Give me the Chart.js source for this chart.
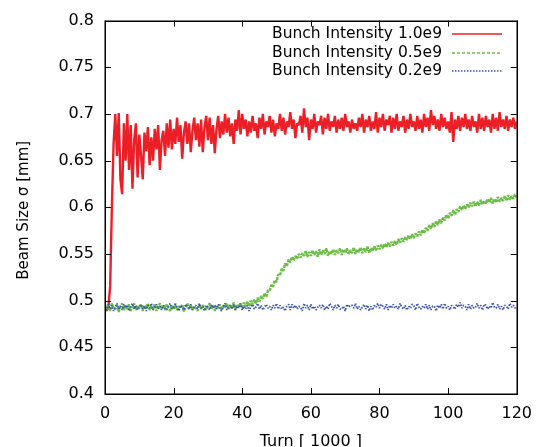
<!DOCTYPE html>
<html>
<head>
<meta charset="utf-8">
<script src="https://cdn.jsdelivr.net/npm/chart.js@4"></script>
<style>
  html, body { margin: 0; padding: 0; background: #ffffff; }
  #wrap { width: 542px; height: 447px; }
</style>
</head>
<body>
<div id="wrap"><canvas id="c" width="542" height="447"></canvas></div>
<script>
// ---- data ----
const TURN_STEP = 0.5; // sampling interval of the series, in units of 1000 turns
const xTicks = [0, 20, 40, 60, 80, 100, 120];
const yTicks = [0.4, 0.45, 0.5, 0.55, 0.6, 0.65, 0.7, 0.75, 0.8];
const seriesLabels = ["Bunch Intensity 1.0e9", "Bunch Intensity 0.5e9", "Bunch Intensity 0.2e9"];

const intensity10 = [
  0.492,0.489,0.494,0.515,0.600,0.668,
  0.700,0.655,0.701,0.630,0.614,0.690,
  0.650,0.700,0.640,0.688,0.620,0.672,
  0.690,0.632,0.678,0.655,0.630,0.680,
  0.660,0.686,0.645,0.675,0.650,0.684,
  0.662,0.688,0.640,0.672,0.682,0.655,
  0.690,0.664,0.694,0.662,0.684,0.668,
  0.696,0.670,0.688,0.652,0.680,0.692,
  0.668,0.690,0.659,0.682,0.696,0.672,
  0.690,0.665,0.694,0.659,0.686,0.698,
  0.672,0.696,0.668,0.688,0.658,0.684,
  0.698,0.674,0.692,0.678,0.700,0.680,
  0.696,0.676,0.690,0.668,0.694,0.682,
  0.704,0.678,0.700,0.684,0.694,0.676,
  0.692,0.680,0.698,0.682,0.690,0.674,
  0.696,0.684,0.700,0.678,0.692,0.686,
  0.698,0.680,0.694,0.676,0.690,0.684,
  0.700,0.682,0.696,0.678,0.692,0.686,
  0.702,0.684,0.694,0.674,0.690,0.688,
  0.698,0.680,0.706,0.686,0.696,0.672,
  0.694,0.684,0.700,0.680,0.692,0.688,
  0.698,0.678,0.696,0.684,0.700,0.682,
  0.692,0.686,0.698,0.680,0.694,0.684,
  0.696,0.682,0.700,0.686,0.692,0.680,
  0.694,0.684,0.690,0.682,0.696,0.686,
  0.700,0.680,0.694,0.686,0.698,0.682,
  0.692,0.684,0.702,0.680,0.696,0.686,
  0.700,0.682,0.694,0.688,0.698,0.680,
  0.696,0.684,0.700,0.682,0.692,0.686,
  0.698,0.680,0.694,0.684,0.700,0.686,
  0.692,0.682,0.698,0.684,0.694,0.680,
  0.700,0.686,0.696,0.682,0.704,0.688,
  0.698,0.684,0.694,0.682,0.700,0.686,
  0.696,0.684,0.692,0.680,0.702,0.670,
  0.694,0.684,0.698,0.682,0.696,0.686,
  0.700,0.684,0.694,0.682,0.698,0.686,
  0.692,0.680,0.700,0.684,0.696,0.682,
  0.698,0.686,0.694,0.680,0.700,0.684,
  0.696,0.682,0.702,0.686,0.694,0.684,
  0.698,0.682,0.694,0.686,0.696,0.684,
  0.692
];

const intensity05 = [
  0.496,0.490,0.494,0.489,0.497,0.492,
  0.491,0.495,0.488,0.494,0.497,0.490,
  0.495,0.491,0.496,0.489,0.493,0.497,
  0.490,0.494,0.492,0.496,0.489,0.495,
  0.492,0.497,0.490,0.494,0.491,0.496,
  0.489,0.494,0.497,0.491,0.495,0.490,
  0.496,0.492,0.489,0.495,0.491,0.497,
  0.490,0.494,0.492,0.496,0.488,0.493,
  0.497,0.491,0.495,0.490,0.494,0.492,
  0.489,0.496,0.491,0.495,0.493,0.490,
  0.494,0.497,0.491,0.495,0.489,0.494,
  0.492,0.496,0.490,0.495,0.493,0.497,
  0.491,0.495,0.492,0.498,0.490,0.496,
  0.493,0.497,0.492,0.498,0.494,0.499,
  0.494,0.500,0.496,0.501,0.497,0.503,
  0.499,0.505,0.502,0.508,0.504,0.511,
  0.511,0.517,0.515,0.522,0.520,0.528,
  0.527,0.534,0.532,0.540,0.537,0.544,
  0.541,0.547,0.543,0.548,0.545,0.550,
  0.546,0.551,0.548,0.553,0.547,0.552,
  0.548,0.554,0.549,0.553,0.547,0.555,
  0.549,0.554,0.550,0.556,0.548,0.553,
  0.550,0.555,0.549,0.554,0.551,0.556,
  0.549,0.555,0.551,0.556,0.550,0.554,
  0.551,0.557,0.550,0.555,0.552,0.557,
  0.551,0.556,0.552,0.558,0.551,0.556,
  0.553,0.558,0.554,0.559,0.555,0.560,
  0.556,0.561,0.557,0.562,0.558,0.563,
  0.559,0.564,0.560,0.566,0.562,0.567,
  0.563,0.568,0.565,0.570,0.566,0.571,
  0.567,0.572,0.569,0.574,0.570,0.576,
  0.572,0.578,0.575,0.581,0.577,0.583,
  0.579,0.585,0.581,0.587,0.583,0.589,
  0.586,0.592,0.588,0.594,0.591,0.597,
  0.592,0.598,0.595,0.601,0.597,0.602,
  0.598,0.603,0.600,0.605,0.601,0.606,
  0.601,0.606,0.602,0.608,0.603,0.607,
  0.604,0.609,0.605,0.610,0.604,0.609,
  0.605,0.611,0.606,0.610,0.607,0.612,
  0.607,0.613,0.608,0.612,0.609,0.614,
  0.610
];

const intensity02 = [
  0.494,0.490,0.496,0.491,0.495,0.489,
  0.493,0.497,0.491,0.494,0.490,0.496,
  0.492,0.495,0.489,0.494,0.497,0.491,
  0.495,0.490,0.493,0.496,0.491,0.494,
  0.489,0.495,0.492,0.497,0.490,0.493,
  0.496,0.491,0.494,0.490,0.495,0.492,
  0.490,0.494,0.497,0.491,0.493,0.496,
  0.492,0.489,0.495,0.493,0.490,0.496,
  0.494,0.491,0.496,0.490,0.493,0.495,
  0.491,0.497,0.492,0.494,0.489,0.495,
  0.493,0.490,0.496,0.492,0.495,0.491,
  0.496,0.492,0.489,0.494,0.497,0.490,
  0.493,0.495,0.491,0.496,0.490,0.494,
  0.492,0.497,0.490,0.494,0.491,0.495,
  0.489,0.494,0.496,0.491,0.493,0.497,
  0.491,0.495,0.490,0.493,0.496,0.492,
  0.494,0.490,0.495,0.492,0.497,0.491,
  0.495,0.491,0.493,0.489,0.494,0.496,
  0.490,0.496,0.492,0.495,0.491,0.494,
  0.493,0.489,0.497,0.492,0.495,0.490,
  0.496,0.491,0.494,0.490,0.493,0.495,
  0.492,0.496,0.490,0.494,0.491,0.497,
  0.494,0.490,0.495,0.492,0.496,0.491,
  0.491,0.494,0.489,0.496,0.493,0.495,
  0.495,0.492,0.497,0.491,0.494,0.490,
  0.493,0.496,0.491,0.495,0.489,0.494,
  0.490,0.495,0.493,0.497,0.492,0.496,
  0.494,0.491,0.496,0.490,0.495,0.492,
  0.496,0.492,0.494,0.491,0.497,0.493,
  0.491,0.495,0.490,0.494,0.492,0.496,
  0.495,0.490,0.497,0.493,0.491,0.494,
  0.492,0.496,0.491,0.495,0.490,0.494,
  0.494,0.489,0.495,0.492,0.496,0.491,
  0.497,0.492,0.494,0.490,0.495,0.493,
  0.491,0.496,0.493,0.498,0.492,0.495,
  0.494,0.490,0.496,0.491,0.495,0.492,
  0.493,0.497,0.492,0.495,0.490,0.496,
  0.495,0.491,0.494,0.492,0.498,0.493,
  0.492,0.496,0.491,0.494,0.490,0.495,
  0.494,0.491,0.497,0.493,0.495,0.492,
  0.494
];

// ---- styles ----
const COLORS = ["#ec1f27", "#6cbd45", "#3a55ab"];
const WIDTHS = [2.4, 2.4, 1.8];
const DASHES = [[], [3, 1], [1.5, 1.5]];
const LEGEND_DASHES = [[], [3, 2], [1.5, 1.5]];
const FONT = "'DejaVu Sans', sans-serif";

function toPoints(arr) {
  return arr.map((v, i) => ({ x: i * TURN_STEP, y: v }));
}

const seriesData = [intensity10, intensity05, intensity02];
const datasets = seriesData.map((arr, k) => ({
  label: seriesLabels[k],
  data: toPoints(arr),
  borderColor: COLORS[k],
  borderWidth: WIDTHS[k],
  borderDash: DASHES[k],
  borderJoinStyle: "bevel",
  pointRadius: 0,
  tension: 0,
  fill: false
})).reverse(); // draw red on top

const framePlugin = {
  id: "gnuplotFrame",
  afterDraw(chart) {
    const { ctx, chartArea: a, scales } = chart;
    ctx.save();
    ctx.strokeStyle = "#000";
    ctx.lineWidth = 1;
    // inward ticks on all four sides
    const TL = 6;
    ctx.beginPath();
    yTicks.forEach(v => {
      const y = Math.round(scales.y.getPixelForValue(v)) + 0.5;
      ctx.moveTo(a.left, y); ctx.lineTo(a.left + TL, y);
      ctx.moveTo(a.right, y); ctx.lineTo(a.right - TL, y);
    });
    xTicks.forEach(v => {
      const x = Math.round(scales.x.getPixelForValue(v)) + 0.5;
      ctx.moveTo(x, a.bottom); ctx.lineTo(x, a.bottom - TL);
      ctx.moveTo(x, a.top); ctx.lineTo(x, a.top + TL);
    });
    ctx.stroke();
    // frame
    ctx.lineWidth = 1.5;
    ctx.strokeRect(Math.round(a.left) + 0.25, Math.round(a.top) + 0.25, Math.round(a.right - a.left), Math.round(a.bottom - a.top));

    // legend (text right-aligned, sample line on the right)
    ctx.font = "15.5px " + FONT;
    ctx.textAlign = "right";
    ctx.textBaseline = "middle";
    const rows = [34, 52.5, 71];
    seriesLabels.forEach((lab, k) => {
      ctx.fillStyle = "#000";
      ctx.fillText(lab, 442, rows[k]);
      ctx.beginPath();
      ctx.strokeStyle = COLORS[k];
      ctx.lineWidth = 1.5;
      ctx.setLineDash(LEGEND_DASHES[k]);
      ctx.moveTo(452, Math.round(rows[k]));
      ctx.lineTo(502, Math.round(rows[k]));
      ctx.stroke();
      ctx.setLineDash([]);
    });

    // axis titles
    ctx.fillStyle = "#000";
    ctx.font = "16px " + FONT;
    ctx.textAlign = "center";
    ctx.textBaseline = "alphabetic";
    ctx.fillText("Turn [ 1000 ]", (a.left + a.right) / 2, 446);
    ctx.save();
    ctx.translate(28, (a.top + a.bottom) / 2 + 3);
    ctx.rotate(-Math.PI / 2);
    ctx.font = "15px " + FONT;
    ctx.fillText("Beam Size σ [mm]", 0, 0);
    ctx.restore();
    ctx.restore();
  }
};

new Chart(document.getElementById("c"), {
  type: "line",
  data: { datasets },
  options: {
    responsive: false,
    animation: false,
    devicePixelRatio: 1,
    layout: { padding: { top: 20, right: 18, left: 0, bottom: 0 } },
    plugins: { legend: { display: false }, tooltip: { enabled: false } },
    scales: {
      x: {
        type: "linear",
        min: 0, max: 120,
        afterFit: s => { s.height = 53; },
        afterBuildTicks: s => { s.ticks = xTicks.map(v => ({ value: v })); },
        grid: { display: false, drawTicks: false },
        border: { display: false },
        ticks: { color: "#000", font: { family: FONT, size: 16 }, padding: 10, maxRotation: 0 }
      },
      y: {
        type: "linear",
        min: 0.4, max: 0.8,
        afterFit: s => { s.width = 105; },
        afterBuildTicks: s => { s.ticks = yTicks.map(v => ({ value: v })); },
        grid: { display: false, drawTicks: false },
        border: { display: false },
        ticks: {
          color: "#000", font: { family: FONT, size: 16 }, padding: 11,
          callback: v => String(parseFloat(Number(v).toFixed(2)))
        }
      }
    }
  },
  plugins: [framePlugin]
});
</script>
</body>
</html>
